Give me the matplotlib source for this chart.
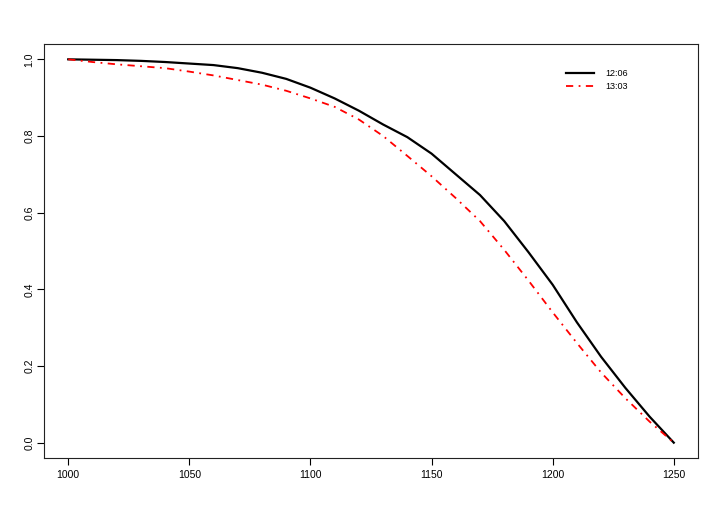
import matplotlib
matplotlib.use("Agg")
import matplotlib.pyplot as plt

plt.rcParams['font.family'] = ['Liberation Sans', 'DejaVu Sans']

x = [1000, 1010, 1020, 1030, 1040, 1050, 1060, 1070, 1080, 1090, 1100, 1110, 1120,
     1130, 1140, 1150, 1160, 1170, 1180, 1190, 1200, 1210, 1220, 1230, 1240, 1250]

s_1206 = [1.000, 0.999, 0.998, 0.996, 0.993, 0.989, 0.985, 0.977, 0.965, 0.949, 0.926,
          0.898, 0.866, 0.830, 0.797, 0.754, 0.700, 0.646, 0.578, 0.497, 0.412, 0.314,
          0.224, 0.143, 0.068, 0.000]

s_1303 = [1.000, 0.993, 0.987, 0.982, 0.977, 0.968, 0.958, 0.946, 0.934, 0.918, 0.898,
          0.876, 0.843, 0.800, 0.748, 0.695, 0.638, 0.578, 0.503, 0.423, 0.340, 0.260,
          0.183, 0.116, 0.055, 0.000]

labels = ['12:06', '13:03']

fig = plt.figure(figsize=(7.2, 5.13), dpi=100)
ax = fig.add_axes([44 / 720, 1 - 458 / 513, (698 - 44) / 720, (458 - 44) / 513])

ax.plot(x, s_1206, color='black', lw=1.6, label=labels[0])
ax.plot(x, s_1303, color='red', lw=1.3, dashes=(4, 3, 1, 3), label=labels[1])

ax.set_xlim(990, 1260)
ax.set_ylim(-0.04, 1.04)
ax.set_xticks([1000, 1050, 1100, 1150, 1200, 1250])
ax.set_yticks([0.0, 0.2, 0.4, 0.6, 0.8, 1.0])
ax.set_yticklabels(['0.0', '0.2', '0.4', '0.6', '0.8', '1.0'], rotation=90, va='center')
ax.tick_params(direction='out', length=5, width=0.8, labelsize=7.5, colors='black')
ax.tick_params(axis='x', pad=4)
ax.tick_params(axis='y', pad=2)

for sp in ax.spines.values():
    sp.set_linewidth(0.8)
    sp.set_color('#222222')

ax.legend(loc='upper left', bbox_to_anchor=(0.798, 0.94), frameon=False, fontsize=6.5,
          handlelength=3.1, handletextpad=1.3, labelspacing=0.45,
          borderpad=0, borderaxespad=0)

fig.savefig('out.png', dpi=100)
